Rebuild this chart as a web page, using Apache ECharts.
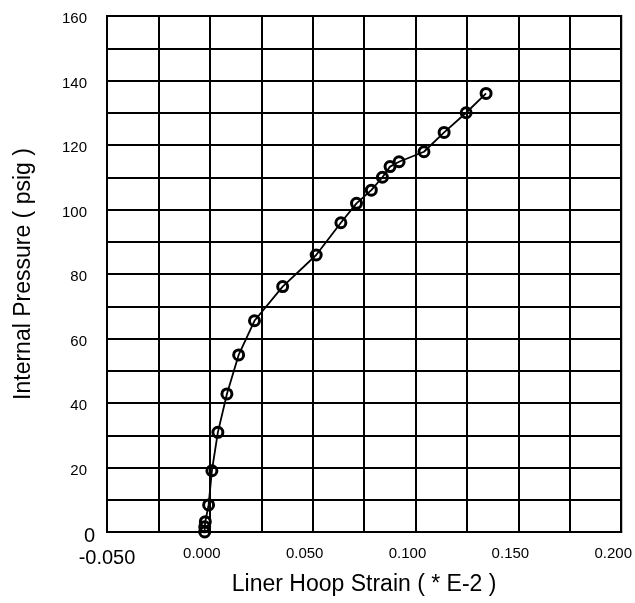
<!DOCTYPE html>
<html>
<head>
<meta charset="utf-8">
<script src="https://cdn.jsdelivr.net/npm/echarts@6/dist/echarts.min.js"></script>
<style>html,body{margin:0;padding:0;background:#fff}#c{width:635px;height:603px}</style>
</head>
<body>
<div id="c"></div>
<script>
var strain = [-0.0025, -0.0025, -0.0022, -0.0006, 0.0010, 0.0039, 0.0083, 0.0140, 0.0217, 0.0354, 0.0517, 0.0637, 0.0713, 0.0785, 0.0839, 0.0876, 0.0920, 0.1041, 0.1139, 0.1246, 0.1343];
var pressure = [0, 1.6, 3.2, 8.4, 19.0, 30.9, 42.8, 54.9, 65.5, 76.1, 85.9, 95.9, 101.9, 106.0, 110.0, 113.3, 114.8, 117.9, 123.9, 130.0, 136.0];
var xTickLabels = ['-0.050', '0.000', '0.050', '0.100', '0.150', '0.200'];
var yTickLabels = ['0', '20', '40', '60', '80', '100', '120', '140', '160'];
var xTitle = 'Liner Hoop Strain ( * E-2 )';
var yTitle = 'Internal Pressure ( psig )';

var points = strain.map(function (s, i) { return [s, pressure[i]]; });
var narrow = '"Liberation Sans Narrow", "Arial Narrow", "Liberation Sans", sans-serif';
var regular = '"Liberation Sans", Arial, sans-serif';

var chart = echarts.init(document.getElementById('c'));
chart.setOption({
  animation: false,
  backgroundColor: '#fff',
  grid: { left: 107, right: 12, top: 16, bottom: 71, show: true, borderColor: '#000', borderWidth: 2 },
  xAxis: {
    type: 'value', min: -0.05, max: 0.2, interval: 0.025,
    name: xTitle, nameLocation: 'middle', nameGap: 36,
    nameTextStyle: { fontFamily: regular, fontSize: 23, color: '#000' },
    axisLine: { show: true, onZero: false, lineStyle: { color: '#000', width: 2 } },
    axisTick: { show: false },
    splitLine: { show: true, lineStyle: { color: '#000', width: 2 } },
    axisLabel: {
      margin: 14, color: '#000',
      formatter: function (v) {
        var i = Math.round((v + 0.05) / 0.05 * 1000) / 1000;
        if (Math.abs(i - Math.round(i)) > 1e-6) return '';
        var t = xTickLabels[Math.round(i)];
        if (t === undefined) return '';
        return Math.round(i) === 0 ? '{big|' + t + '}' : '{n|' + t + '}';
      },
      rich: {
        big: { fontFamily: regular, fontSize: 20, color: '#000', padding: [2, 0, 0, 0] },
        n: { fontFamily: narrow, fontSize: 15, color: '#000', padding: [0, 16, 0, 0] }
      }
    }
  },
  yAxis: {
    type: 'value', min: 0, max: 160, interval: 10,
    name: yTitle, nameLocation: 'middle', nameGap: 72,
    nameTextStyle: { fontFamily: regular, fontSize: 23, color: '#000' },
    axisLine: { show: true, lineStyle: { color: '#000', width: 2 } },
    axisTick: { show: false },
    splitLine: { show: true, lineStyle: { color: '#000', width: 2 } },
    axisLabel: {
      margin: 12, color: '#000',
      formatter: function (v) {
        if (Math.round(v) % 20 !== 0) return '';
        var t = yTickLabels[Math.round(v) / 20];
        if (t === undefined) return '';
        return v === 0 ? '{big|' + t + '}' : '{n|' + t + '}';
      },
      rich: {
        big: { fontFamily: regular, fontSize: 20, color: '#000', padding: [8, 0, 0, 0] },
        n: { fontFamily: narrow, fontSize: 15, color: '#000', padding: [6, 8, 0, 0] }
      }
    }
  },
  series: [{
    type: 'line',
    data: points,
    symbol: 'circle',
    symbolSize: 10,
    lineStyle: { color: '#000', width: 1.8 },
    itemStyle: { color: 'rgba(0,0,0,0)', borderColor: '#000', borderWidth: 3 },
    z: 5
  }]
});
</script>
</body>
</html>
